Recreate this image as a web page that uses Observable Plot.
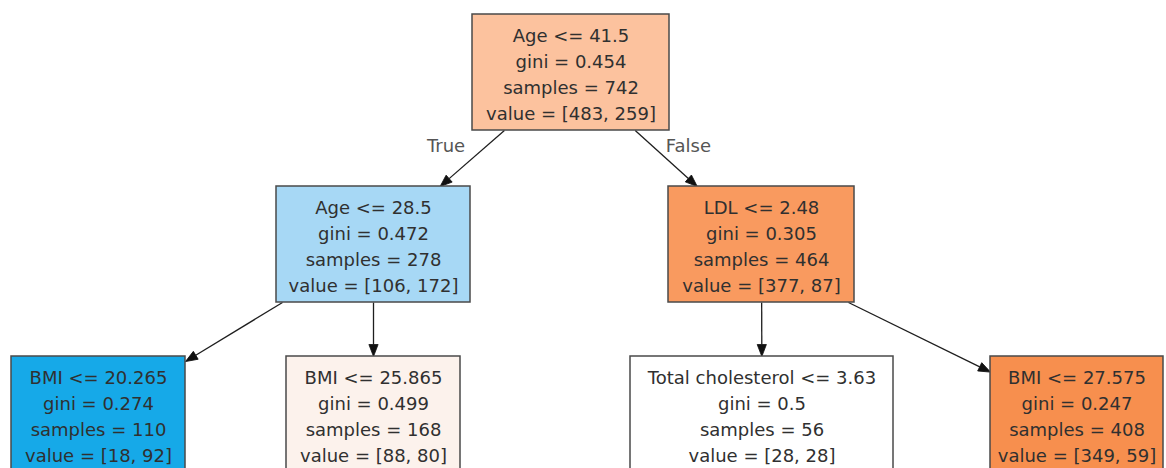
<!DOCTYPE html>
<html>
<head>
<meta charset="utf-8">
<script src="https://cdn.jsdelivr.net/npm/d3@7"></script>
<script src="https://cdn.jsdelivr.net/npm/@observablehq/plot@0.6"></script>
<style>
  html, body { margin: 0; padding: 0; background: #fff; }
  #chart svg { display: block; }
</style>
</head>
<body>
<div id="chart"></div>
<script>
// ---- data (decision tree nodes) ----
const features   = ["Age", "Age", "LDL", "BMI", "BMI", "Total cholesterol", "BMI"];
const thresholds = ["41.5", "28.5", "2.48", "20.265", "25.865", "3.63", "27.575"];
const gini       = ["0.454", "0.472", "0.305", "0.274", "0.499", "0.5", "0.247"];
const samples    = [742, 278, 464, 110, 168, 56, 408];
const values     = [[483, 259], [106, 172], [377, 87], [18, 92], [88, 80], [28, 28], [349, 59]];
const parents    = [null, 0, 0, 1, 1, 2, 2];
const edgeLabels = ["True", "False"]; // labels on the two edges leaving the root

// ---- layout (graph positions) ----
const depth    = [0, 1, 1, 2, 2, 2, 2];
const centerX  = [570.5, 373, 761, 98, 373, 761.5, 1076.5];
const boxW     = [197, 194, 186, 174, 174, 263, 173];
const levelTop = [14, 186, 356];
const boxH     = 116;

// ---- styles ----
const fills = ["#fcc29e", "#a7d8f5", "#f99a5f", "#16a9e8", "#fcf2ec", "#ffffff", "#f78f4e"];
const textColor = "#303030";
const W = 1166, H = 468;

const nodes = features.map((f, i) => {
  const y1 = levelTop[depth[i]];
  return {
    i,
    label: `${f} <= ${thresholds[i]}\ngini = ${gini[i]}\nsamples = ${samples[i]}\nvalue = [${values[i][0]}, ${values[i][1]}]`,
    x1: centerX[i] - boxW[i] / 2,
    x2: centerX[i] + boxW[i] / 2,
    y1, y2: y1 + boxH,
    cx: centerX[i], cy: y1 + boxH / 2,
    fill: fills[i]
  };
});

// clip a ray from point (ox,oy) in direction (dx,dy) to the border of box n
function clip(n, ox, oy, dx, dy) {
  const hw = (n.x2 - n.x1) / 2, hh = (n.y2 - n.y1) / 2;
  const tx = dx === 0 ? Infinity : (hw - Math.sign(dx) * (ox - n.cx)) / Math.abs(dx);
  const ty = dy === 0 ? Infinity : (hh - Math.sign(dy) * (oy - n.cy)) / Math.abs(dy);
  const t = Math.min(tx, ty);
  return [ox + dx * t, oy + dy * t];
}

const headLen = 12;
const edges = [];
nodes.forEach(n => {
  const p = parents[n.i];
  if (p === null) return;
  const P = nodes[p];
  // start on the parent's bottom side, toward the child's centre
  const dx0 = n.cx - P.cx, dy0 = n.cy - P.cy;
  let sx = P.cx + dx0 * ((P.y2 - P.cy) / dy0);
  sx = Math.max(P.x1 + 6, Math.min(P.x2 - 6, sx));
  const sy = P.y2;
  const dx = n.cx - sx, dy = n.cy - sy;
  const [tx, ty] = clip(n, n.cx, n.cy, -dx, -dy);
  const len = Math.hypot(tx - sx, ty - sy);
  const ux = (tx - sx) / len, uy = (ty - sy) / len;
  edges.push({
    parent: p, child: n.i,
    sx, sy, tx, ty,
    ex: tx - ux * headLen, ey: ty - uy * headLen,
    angle: Math.atan2(ux, -uy) * 180 / Math.PI
  });
});

// arrowhead symbol: tip at origin, pointing up
const arrowHead = {
  draw(context) {
    context.moveTo(0, 0);
    context.lineTo(4.6, headLen);
    context.lineTo(-4.6, headLen);
    context.closePath();
  }
};

const rootEdges = edges.filter(e => e.parent === 0).map((e, k) => ({
  ...e,
  text: edgeLabels[k],
  lx: e.sx + (e.tx - e.sx) * 0.3,
  ly: e.sy + (e.ty - e.sy) * 0.3
}));

const chart = Plot.plot({
  width: W,
  height: H,
  margin: 0,
  x: {domain: [0, W], range: [0, W], axis: null},
  y: {domain: [0, H], range: [0, H], axis: null},
  style: {background: "#fff", fontFamily: "'DejaVu Sans', sans-serif"},
  marks: [
    Plot.link(edges, {x1: "sx", y1: "sy", x2: "ex", y2: "ey", stroke: "#1e1e1e", strokeWidth: 1.3}),
    Plot.dot(edges, {x: "tx", y: "ty", symbol: arrowHead, rotate: "angle", fill: "#111", stroke: "#111", strokeWidth: 0.8}),
    Plot.rect(nodes, {x1: "x1", x2: "x2", y1: "y1", y2: "y2", fill: d => d.fill, stroke: "#4a4a4a", strokeWidth: 1.5}),
    Plot.text(nodes, {x: "cx", y: "cy", text: "label", fontSize: 18, lineHeight: 26 / 18, fill: textColor, textAnchor: "middle"}),
    Plot.text(rootEdges.filter(d => d.text === "True"), {x: "lx", y: "ly", text: "text", fontSize: 18, fill: "#555", textAnchor: "end", dx: -20, dy: -1}),
    Plot.text(rootEdges.filter(d => d.text === "False"), {x: "lx", y: "ly", text: "text", fontSize: 18, fill: "#555", textAnchor: "start", dx: 12, dy: -1})
  ]
});
document.getElementById("chart").appendChild(chart);
</script>
</body>
</html>
